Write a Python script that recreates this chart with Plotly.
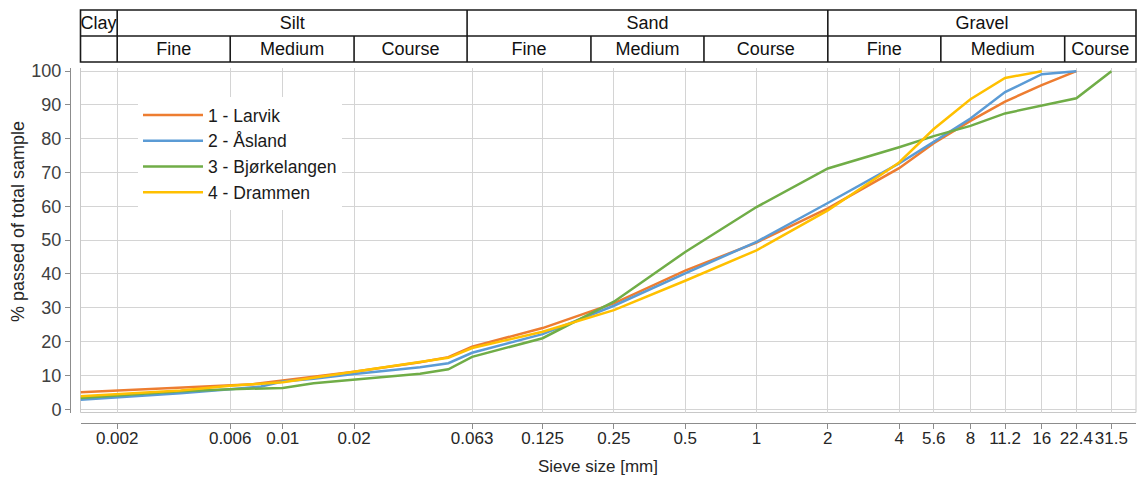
import math
import plotly.graph_objects as go

# ---------------- data ----------------
sieve_ticks = [0.002, 0.006, 0.01, 0.02, 0.063, 0.125, 0.25, 0.5, 1, 2, 4, 5.6, 8, 11.2, 16, 22.4, 31.5]
tick_labels = ["0.002", "0.006", "0.01", "0.02", "0.063", "0.125", "0.25", "0.5", "1", "2",
               "4", "5.6", "8", "11.2", "16", "22.4", "31.5"]

larvik_x = [0.0014, 0.0037, 0.006, 0.0075, 0.01, 0.0135, 0.02, 0.038, 0.05, 0.063, 0.125, 0.25, 0.5, 1, 2, 4, 5.6, 8, 11.2, 16, 22.4]
larvik_y = [5.0, 6.3, 6.9, 7.4, 8.5, 9.6, 11.1, 13.9, 15.4, 18.5, 24.0, 31.3, 41.0, 49.3, 59.4, 71.3, 78.7, 85.3, 91.0, 95.9, 100]

asland_x = [0.0014, 0.0037, 0.006, 0.0081, 0.01, 0.0135, 0.02, 0.038, 0.05, 0.063, 0.125, 0.25, 0.5, 1, 2, 4, 5.6, 8, 11.2, 16, 22.4]
asland_y = [2.8, 4.7, 5.9, 6.7, 8.2, 9.0, 10.4, 12.4, 13.6, 16.7, 22.2, 30.6, 40.2, 49.5, 61.0, 72.7, 79.1, 86.0, 93.8, 99.1, 100]

bjorkelangen_x = [0.0014, 0.0037, 0.006, 0.0075, 0.01, 0.0135, 0.02, 0.038, 0.05, 0.063, 0.125, 0.25, 0.5, 1, 2, 4, 5.6, 8, 11.2, 16, 22.4, 31.5]
bjorkelangen_y = [3.3, 5.3, 5.9, 6.1, 6.3, 7.7, 8.7, 10.5, 11.8, 15.5, 21.0, 31.8, 46.5, 59.8, 71.2, 77.5, 80.8, 83.8, 87.5, 89.8, 92.0, 100]

drammen_x = [0.0014, 0.0037, 0.006, 0.0075, 0.01, 0.0135, 0.02, 0.038, 0.05, 0.063, 0.125, 0.25, 0.5, 1, 2, 4, 5.6, 8, 11.2, 16]
drammen_y = [3.8, 5.5, 6.9, 7.3, 8.0, 9.3, 11.1, 14.0, 15.2, 18.1, 22.9, 29.3, 38.0, 47.0, 58.8, 73.0, 82.9, 91.7, 98.0, 100]

series_names = ["1 - Larvik", "2 - Åsland", "3 - Bjørkelangen", "4 - Drammen"]
series_colors = ["#ED7D31", "#5B9BD5", "#70AD47", "#FFC000"]

# soil classification header
main_classes = ["Clay", "Silt", "Sand", "Gravel"]
main_bounds = [0.0014, 0.002, 0.06, 2, 40]
sub_classes = ["", "Fine", "Medium", "Course", "Fine", "Medium", "Course", "Fine", "Medium", "Course"]
sub_bounds = [0.0014, 0.002, 0.006, 0.02, 0.06, 0.2, 0.6, 2, 6, 20, 40]

x_min, x_max = 0.0014, 40
FONT = "Liberation Sans, Arial, sans-serif"
HDR = 18

fig = go.Figure()

for xs, ys, name, col in zip([larvik_x, asland_x, bjorkelangen_x, drammen_x],
                             [larvik_y, asland_y, bjorkelangen_y, drammen_y],
                             series_names, series_colors):
    fig.add_trace(go.Scatter(x=xs, y=ys, name=name, mode="lines",
                             line=dict(color=col, width=2.5), xaxis="x", yaxis="y"))

# header dividers (vertical lines) on hidden x3 / y2
hx, hy = [], []
for b in main_bounds[1:-1]:
    hx += [b, b, None]
    hy += [0, 2.03, None]
for b in sub_bounds[1:-1]:
    if b in main_bounds:
        continue
    hx += [b, b, None]
    hy += [0, 1, None]
fig.add_trace(go.Scatter(x=hx, y=hy, mode="lines", line=dict(color="#1a1a1a", width=1.6),
                         xaxis="x3", yaxis="y2", showlegend=False, hoverinfo="skip"))

# header labels
tx, ty, tt = [], [], []
for i, lab in enumerate(main_classes):
    if i == 0:
        continue
    tx.append(math.sqrt(main_bounds[i] * main_bounds[i + 1]))
    ty.append(1.45)
    tt.append(lab)
for i, lab in enumerate(sub_classes):
    if not lab:
        continue
    tx.append(math.sqrt(sub_bounds[i] * sub_bounds[i + 1]))
    ty.append(0.45)
    tt.append(lab)
fig.add_trace(go.Scatter(x=tx, y=ty, text=tt, mode="text", textposition="middle center",
                         textfont=dict(family=FONT, size=HDR, color="#111111"),
                         xaxis="x3", yaxis="y2", showlegend=False, hoverinfo="skip"))
fig.add_trace(go.Scatter(x=[main_bounds[0]], y=[1.45], text=[main_classes[0]], mode="text",
                         textposition="middle right",
                         textfont=dict(family=FONT, size=HDR, color="#111111"),
                         xaxis="x3", yaxis="y2", showlegend=False, hoverinfo="skip"))

# page body has an 8px margin: figure is placed at (8, 8) in the window
OFF = 8
W, H = 1148 - OFF, 478 - OFF
ml, mr, mt, mb = 70 - OFF, 12, 10 - OFF, 55
pw, ph = W - ml - mr, H - mt - mb
paper_bottom = H - mb + OFF          # page y of paper bottom (423)


def py(page_y):
    return (paper_bottom - page_y) / ph


def px(page_x):
    return (page_x - (ml + OFF)) / pw


x_dom0 = px(80.5)
y_dom0 = py(412.5)
y_dom1 = py(68)
h_dom0 = py(62)

rng = [math.log10(x_min), math.log10(x_max)]

fig.update_layout(
    width=W, height=H,
    margin=dict(l=ml, r=mr, t=mt, b=mb),
    paper_bgcolor="white", plot_bgcolor="white",
    font=dict(family=FONT, size=17, color="#404040"),
    xaxis=dict(type="log", range=rng, domain=[x_dom0, 1], anchor="free", position=0,
               tickmode="array", tickvals=sieve_ticks, ticktext=tick_labels, tickangle=0,
               showgrid=True, gridcolor="#d4d4d4", gridwidth=1,
               showline=True, linecolor="#8c8c8c", linewidth=1,
               ticks="outside", ticklen=5, tickcolor="#8c8c8c", ticklabelstandoff=-5,
               tickfont=dict(size=17, color="#262626"), automargin=False,
               zeroline=False),
    yaxis=dict(range=[-0.98, 100.94], domain=[y_dom0, y_dom1], anchor="free", position=0,
               tickmode="array", tickvals=list(range(0, 101, 10)),
               showgrid=True, gridcolor="#d4d4d4", gridwidth=1,
               showline=True, linecolor="#8c8c8c", linewidth=1,
               ticks="outside", ticklen=5, tickcolor="#8c8c8c",
               tickfont=dict(size=18, color="#404040"), automargin=False,
               zeroline=False),
    xaxis3=dict(type="log", range=rng, domain=[x_dom0, 1], anchor="y2", visible=False,
                showgrid=False, zeroline=False),
    yaxis2=dict(range=[0, 2], domain=[h_dom0, 1], anchor="x3", visible=False,
                showgrid=False, zeroline=False),
    legend=dict(x=px(138), y=py(97), xanchor="left", yanchor="top",
                bgcolor="white", borderwidth=0, itemwidth=60,
                font=dict(family=FONT, size=17.5, color="#1a1a1a"), tracegroupgap=0),
    annotations=[
        dict(text="Sieve size [mm]", showarrow=False,
             xref="paper", yref="paper", x=px(598), y=py(466), xanchor="center", yanchor="middle",
             font=dict(family=FONT, size=17, color="#262626")),
        dict(text="% passed of total sample", textangle=-90, showarrow=False,
             xref="paper", yref="paper", x=px(18), y=py(222), xanchor="center", yanchor="middle",
             font=dict(family=FONT, size=18, color="#262626")),
    ],
    shapes=[
        # header frame
        dict(type="rect", xref="x3 domain", yref="y2 domain", x0=0, x1=1, y0=0, y1=1,
             line=dict(color="#1a1a1a", width=1.6), layer="above"),
        dict(type="line", xref="x3 domain", yref="y2 domain", x0=0, x1=1, y0=0.5, y1=0.5,
             line=dict(color="#1a1a1a", width=1.6), layer="above"),
        # plot-area border (left, right, bottom)
        dict(type="line", xref="x domain", yref="y domain", x0=0, x1=0, y0=0, y1=1,
             line=dict(color="#c8c8c8", width=1), layer="below"),
        dict(type="line", xref="x domain", yref="y domain", x0=1, x1=1, y0=0, y1=1,
             line=dict(color="#c8c8c8", width=1), layer="below"),
        dict(type="line", xref="x domain", yref="y domain", x0=0, x1=1, y0=0, y1=0,
             line=dict(color="#c8c8c8", width=1), layer="below"),
    ],
)

fig.write_html("out.html")
